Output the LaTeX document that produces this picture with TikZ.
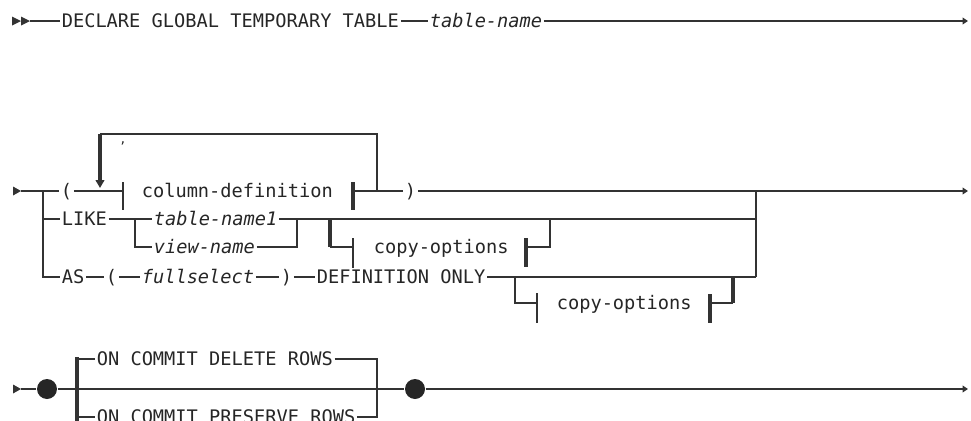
\documentclass[tikz,border=0pt]{standalone}
\usepackage{fontspec}
\setmonofont{DejaVu Sans Mono}
\usepackage{tikz}
\usetikzlibrary{arrows.meta}

\tikzset{
  kw/.style={anchor=west,inner sep=0.8pt,text height=10.2pt,text depth=0pt,text=black!85,
    font=\ttfamily\fontsize{14}{16}\selectfont},
  var/.style={kw,font=\ttfamily\itshape\fontsize{14}{16}\selectfont},
  bar/.style={line width=2.4pt},
  dot/.style={circle,fill=black!85,inner sep=0pt,minimum size=15pt}
}

\begin{document}
\begin{tikzpicture}[x=0.75pt,y=-0.75pt,line width=1.1pt,color=black!80,
  >={Triangle[length=4pt,width=5pt]}]
  \useasboundingbox (0,0) rectangle (971,421);
  % first line
  \fill (12,16.5) -- (21,21) -- (12,25.5) -- cycle;
  \fill (21,16.5) -- (30,21) -- (21,25.5) -- cycle;
  \coordinate (a0) at (30,21);
  \coordinate (e1) at (968,21);
  \node[kw] (decl) at (60,21) {DECLARE GLOBAL TEMPORARY TABLE};
  \node[var] (tname) at (428,21) {table-name};
  \draw (a0) -- (decl.west);
  \draw (decl.east) -- (tname.west);
  \draw[->] (tname.east) -- (e1);

  % second line: column list, LIKE, AS
  \fill (13,186.5) -- (21,191) -- (13,195.5) -- cycle;
  \coordinate (b0) at (21,191);
  \coordinate (j0) at (43,191);
  \coordinate (cl) at (123,191);
  \coordinate (cr) at (353,191);
  \coordinate (rep) at (377,191);
  \coordinate (lt) at (100,134);
  \coordinate (ld) at (100,188);
  \coordinate (j1) at (756,191);
  \coordinate (m9) at (756,277);
  \coordinate (e2) at (968,191);
  \node[kw] (lp) at (59,191) {(};
  \node[kw] (coldef) at (140,191) {column-definition};
  \node[kw] (rp) at (403,191) {)};
  \node[font=\ttfamily\fontsize{9}{9}\selectfont,text=black!85] (comma) at (123,143) {,};
  \draw (b0) -- (lp.west);
  \draw (lp.east) -- (cl);
  \draw (cl) ++(0,-9) -- ++(0,28);
  \draw[bar] (cr) ++(0,-9) -- ++(0,28);
  \draw (cr) -- (rep) -- (rp.west);
  \draw (rep) |- (lt);
  \draw[bar,-{Triangle[length=6pt,width=6.5pt]}] (lt) -- (ld);
  \draw (rp.east) -- (j1);
  \draw[->] (j1) -- (e2);
  \draw (j1) -- (m9);

  \node[kw] (like) at (60,219) {LIKE};
  \node[var] (tn1) at (152,219) {table-name1};
  \node[var] (vn) at (152,247) {view-name};
  \coordinate (k1) at (135,219);
  \coordinate (k2) at (297,219);
  \coordinate (k3) at (756,219);
  \draw (j0) |- (like.west);
  \draw (like.east) -- (k1) -- (tn1.west);
  \draw (k1) |- (vn.west);
  \draw (tn1.east) -- (k2);
  \draw (vn.east) -| (k2);
  \draw (k2) -- (k3);
  % optional copy-options after LIKE
  \coordinate (c1a) at (330,219);
  \coordinate (c1b) at (550,219);
  \node[kw] (copy1) at (372,247) {copy-options};
  \draw[bar] (c1a) -- (c1a |- copy1.west);
  \draw (c1a |- copy1.west) -- (353,247);
  \draw (353,238) -- (353,268);
  \draw[bar] (526,238) -- (526,267);
  \draw (526,247) -| (c1b);

  \node[kw] (as) at (60,277) {AS};
  \node[kw] (lp2) at (104,277) {(};
  \node[var] (fsel) at (140,277) {fullselect};
  \node[kw] (rp2) at (279,277) {)};
  \node[kw] (defo) at (315,277) {DEFINITION ONLY};
  \draw (j0) |- (as.west);
  \draw (as.east) -- (lp2.west);
  \draw (lp2.east) -- (fsel.west);
  \draw (fsel.east) -- (rp2.west);
  \draw (rp2.east) -- (defo.west);
  \draw (defo.east) -- (m9);
  % optional copy-options after DEFINITION ONLY
  \coordinate (c2a) at (515,277);
  \coordinate (c2b) at (733,277);
  \node[kw] (copy2) at (555,303) {copy-options};
  \draw (c2a) |- (537,303);
  \draw (537,293) -- (537,323);
  \draw[bar] (710,294) -- (710,323);
  \draw (710,303) -- (733,303);
  \draw[bar] (733,303) -- (c2b);

  % third line: ON COMMIT
  \fill (13,384.5) -- (21,389) -- (13,393.5) -- cycle;
  \coordinate (d0) at (21,389);
  \coordinate (d2) at (377,389);
  \coordinate (e3) at (968,389);
  \node[dot] (o1) at (47,389) {};
  \node[dot] (o2) at (415,389) {};
  \node[kw] (del) at (95,359) {ON COMMIT DELETE ROWS};
  \node[kw] (pres) at (95,417) {ON COMMIT PRESERVE ROWS};
  \draw (d0) -- (o1);
  \draw (o1) -- (o2);
  \draw[->] (o2) -- (e3);
  \draw[bar] (77,357) -- (77,422);
  \draw (77,359) -- (del.west);
  \draw (77,417) -- (pres.west);
  \draw (del.east) -| (d2);
  \draw (pres.east) -| (d2);
\end{tikzpicture}
\end{document}
